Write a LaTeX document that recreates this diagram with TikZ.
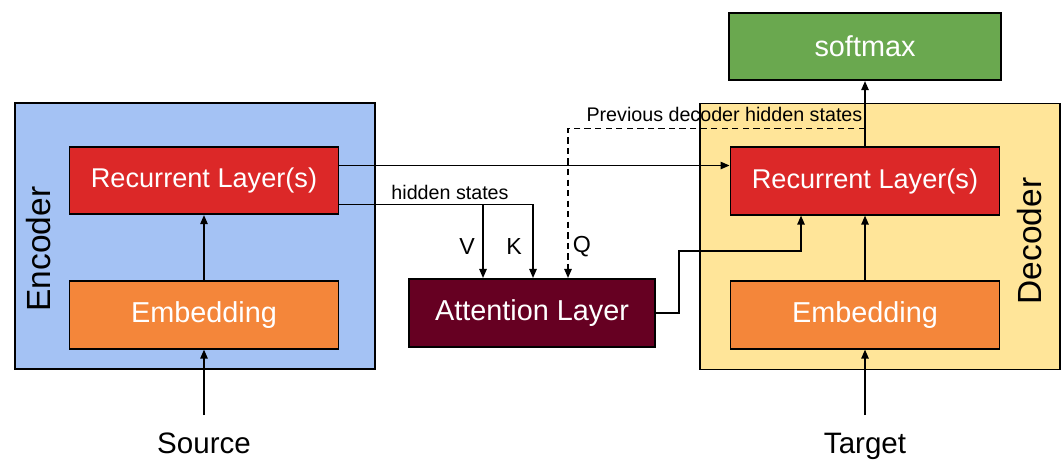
\documentclass[tikz,border=0pt]{standalone}
\usepackage{fontspec}
\setmainfont{Liberation Sans}
\usepackage{tikz}
\usetikzlibrary{calc,arrows.meta,positioning}
\definecolor{encBlue}{HTML}{A4C2F4}
\definecolor{decYellow}{HTML}{FFE599}
\definecolor{recRed}{HTML}{DC2828}
\definecolor{embOrange}{HTML}{F4863A}
\definecolor{attMaroon}{HTML}{660022}
\definecolor{smGreen}{HTML}{6AA84F}

\begin{document}
\begin{tikzpicture}[x=0.025cm, y=-0.025cm,
    panel/.style={draw=black, line width=1.3pt, minimum width=9cm, minimum height=6.65cm},
    layer/.style={draw=black, line width=1.3pt, text=white, font=\fontsize{20.5}{24}\selectfont,
                  minimum width=6.72cm, minimum height=1.68cm, inner sep=0pt},
    conn/.style={line width=1.25pt, -{Triangle[length=6.5pt,width=5.2pt]}},
    lbl/.style={font=\fontsize{14}{16}\selectfont, inner sep=1pt},
    qkv/.style={font=\fontsize{16.5}{19}\selectfont, inner sep=0pt},
    side/.style={rotate=90, font=\fontsize{23.8}{27}\selectfont, inner sep=0pt},
    io/.style={font=\fontsize{21}{24}\selectfont, inner sep=0pt, anchor=base}]
  \useasboundingbox (0,0) rectangle (1062,460);

  % --- encoder and decoder panels ---
  \node[panel, fill=encBlue] (enc) at (195,236) {};
  \node[panel, fill=decYellow] (dec) at (880,236.5) {};
  \node[side] (encName) at (39,249) {Encoder};
  \node[side] (decName) at (1030,241) {Decoder};

  % --- layers ---
  \node[layer, fill=recRed, font=\fontsize{19.3}{23}\selectfont] (encRec) at (204,180.5) {Recurrent Layer(s)};
  \node[layer, fill=embOrange] (encEmb) at (204,315) {Embedding};
  \node[layer, fill=recRed, font=\fontsize{19.3}{23}\selectfont] (decRec) at (865,181) {Recurrent Layer(s)};
  \node[layer, fill=embOrange] (decEmb) at (865,315) {Embedding};
  \node[layer, fill=smGreen, minimum width=6.8cm] (sm) at (865,46.5) {softmax};
  \node[layer, fill=attMaroon, minimum width=6.15cm, minimum height=1.7cm] (attn) at (532,313) {Attention Layer};

  % --- inputs ---
  \node[io] (src) at (204,453) {Source};
  \node[io] (tgt) at (865,453) {Target};
  \coordinate (srcTop) at (204,415);
  \coordinate (tgtTop) at (865,415);

  \draw[conn] (srcTop) -- (encEmb);
  \draw[conn] (encEmb) -- (encRec);
  \draw[conn] (tgtTop) -- (decEmb);
  \draw[conn] (decEmb) -- (decRec);
  \draw[conn] (decRec) -- (sm);

  % final encoder state into the decoder
  \coordinate (ctxOut) at ($(encRec.east)+(0,-15)$);
  \draw[conn] (ctxOut) -- (ctxOut -| decRec.west);

  % hidden states as V and K
  \coordinate (hidOut) at ($(encRec.east)+(0,24)$);
  \draw[conn] (hidOut) -| ($(attn.north)+(-49,0)$);
  \draw[conn] (hidOut) -| ($(attn.north)+(1,0)$);
  \node[lbl] (hidName) at (450,192) {hidden states};
  \node[qkv] (vName) at (467,247) {V};
  \node[qkv] (kName) at (514,247) {K};

  % previous decoder states as Q
  \coordinate (prevOut) at ($(decRec.north)+(0,-18)$);
  \draw[conn, dashed, dash pattern=on 4.5pt off 3pt] (prevOut) -| ($(attn.north)+(36,0)$);
  \node[lbl, anchor=south east] (prevName) at ($(prevOut)+(-1,-5)$) {Previous decoder hidden states};
  \node[qkv] (qName) at (582,247) {Q};

  % attention output into the decoder
  \coordinate (attIn) at ($(decRec.south)+(-64,0)$);
  \draw[conn] (attn.east) -- ++(23,0) -- ++(0,-62) -| (attIn);
\end{tikzpicture}
\end{document}
